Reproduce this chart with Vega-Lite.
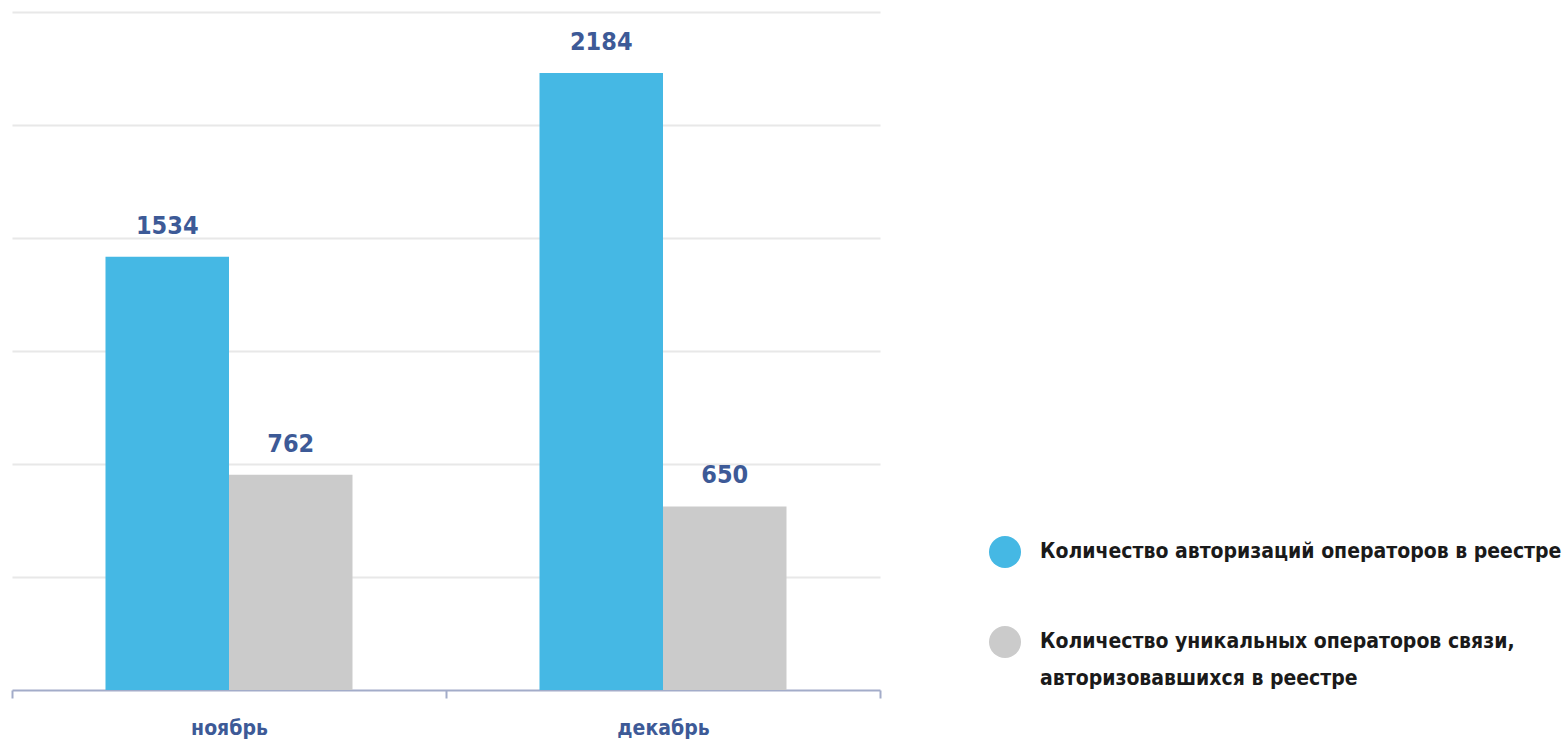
{
  "$schema": "https://vega.github.io/schema/vega-lite/v6.json",
  "autosize": {"type": "none"},
  "width": 868,
  "height": 678,
  "padding": {"left": 12, "top": 12, "right": 687, "bottom": 55},
  "background": "white",
  "config": {
    "view": {"stroke": null},
    "font": "DejaVu Sans Condensed",
    "style": {"guide-label": {"lineHeight": 37}}
  },
  "data": {
    "values": [
      {"month": "ноябрь", "series": "Количество авторизаций операторов в реестре", "value": 1534},
      {"month": "ноябрь", "series": "Количество уникальных операторов связи, авторизовавшихся в реестре", "value": 762},
      {"month": "декабрь", "series": "Количество авторизаций операторов в реестре", "value": 2184},
      {"month": "декабрь", "series": "Количество уникальных операторов связи, авторизовавшихся в реестре", "value": 650}
    ]
  },
  "encoding": {
    "x": {
      "field": "month", "type": "nominal", "sort": ["ноябрь", "декабрь"],
      "scale": {"paddingInner": 0, "paddingOuter": 0},
      "axis": {
        "title": null, "labelAngle": 0, "tickBand": "extent",
        "domainColor": "#a3acc9", "domainWidth": 2, "tickColor": "#a3acc9", "tickWidth": 2, "tickSize": 8,
        "labelFont": "DejaVu Sans Condensed", "labelFontWeight": "bold", "labelFontSize": 21,
        "labelColor": "#3d5a97", "labelPadding": 19
      }
    },
    "xOffset": {
      "field": "series", "type": "nominal",
      "scale": {"paddingInner": 0, "paddingOuter": 0.757}
    },
    "y": {
      "field": "value", "type": "quantitative",
      "scale": {"domain": [0, 2400]},
      "axis": {
        "title": null, "labels": false, "ticks": false, "domain": false,
        "values": [400, 800, 1200, 1600, 2000, 2400],
        "gridColor": "#e8e8e8", "gridWidth": 2
      }
    }
  },
  "layer": [
    {
      "mark": {"type": "bar"},
      "encoding": {
        "color": {
          "field": "series", "type": "nominal",
          "scale": {
            "domain": ["Количество авторизаций операторов в реестре", "Количество уникальных операторов связи, авторизовавшихся в реестре"],
            "range": ["#45b8e4", "#cbcbcb"]
          },
          "legend": {
            "title": null, "orient": "none", "direction": "vertical",
            "legendX": 977, "legendY": 524, "padding": 0,
            "symbolType": "circle", "symbolSize": 1024, "symbolStrokeWidth": 0, "symbolOpacity": 1,
            "labelFont": "DejaVu Sans Condensed", "labelFontWeight": "bold", "labelFontSize": 21,
            "labelColor": "#1a1a1a", "labelOffset": 19, "labelLimit": 700, "rowPadding": 58,
            "labelBaseline": "middle",
            "labelExpr": "indexof(datum.label, 'уникальных') >= 0 ? ['Количество уникальных операторов связи,', 'авторизовавшихся в реестре'] : datum.label"
          }
        }
      }
    },
    {
      "mark": {"type": "text", "baseline": "bottom", "dy": -18, "font": "DejaVu Sans Condensed", "fontWeight": "bold", "fontSize": 25, "color": "#3d5a97"},
      "encoding": {
        "text": {"field": "value", "type": "quantitative"}
      }
    }
  ]
}
